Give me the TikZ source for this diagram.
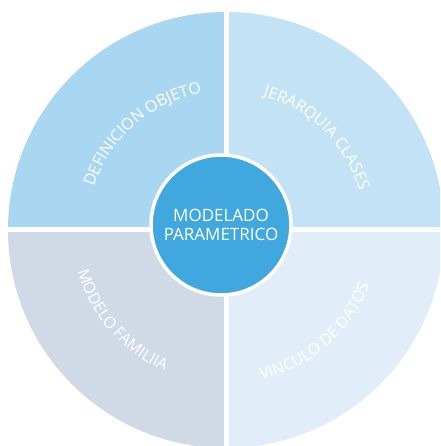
\documentclass[tikz,border=0pt]{standalone}
\usepackage{fontspec}
\setmainfont{Open Sans}
\usetikzlibrary{decorations.text}
\definecolor{qtl}{HTML}{A9D7F1}
\definecolor{qtr}{HTML}{C4E2F6}
\definecolor{qbl}{HTML}{CFDAE6}
\definecolor{qbr}{HTML}{E1EDF9}
\definecolor{hubblue}{HTML}{41A8DF}
\newcommand\qfont{\fontsize{16}{16}\selectfont\color{white}}
\begin{document}
\begin{tikzpicture}[x=1pt,y=1pt,
  quadlabel/.style={decorate, decoration={text along path, text align=center, text={|\qfont|#1}}},
  gap/.style={white, line width=5pt},
  hubnode/.style={circle, fill=hubblue, draw=white, line width=3.5pt, minimum size=140pt, inner sep=0pt,
    text=white, align=center, font=\fontsize{17}{19}\selectfont}]
\useasboundingbox (0,0) rectangle (440,446);
\fill[white] (0,0) rectangle (440,446);
\begin{scope}
\clip (0,0) rectangle (440,446);
\coordinate (C) at (226,216);
\fill[qtl] (C) -- ++(180:218) arc (180:90:218) -- cycle;
\fill[qtr] (C) -- ++(90:218) arc (90:0:218) -- cycle;
\fill[qbl] (C) -- ++(180:218) arc (180:270:218) -- cycle;
\fill[qbr] (C) -- ++(270:218) arc (270:360:218) -- cycle;
\draw[gap] (C) ++(-230,0) -- ++(460,0);
\draw[gap] (C) ++(0,-230) -- ++(0,460);
\path[quadlabel=DEFINICION OBJETO] (C) ++(170:139) arc (170:92:139);
\path[quadlabel=JERARQUIA CLASES] (C) ++(86:139) arc (86:5:139);
\path[quadlabel=MODELO FAMILIIA] (C) ++(182:154) arc (182:260:154);
\path[quadlabel=VINCULO DE DATOS] (C) ++(272:154) arc (272:350:154);
\end{scope}
\node[hubnode] (hub) at (221,221) {MODELADO\\PARAMETRICO};
\end{tikzpicture}
\end{document}
